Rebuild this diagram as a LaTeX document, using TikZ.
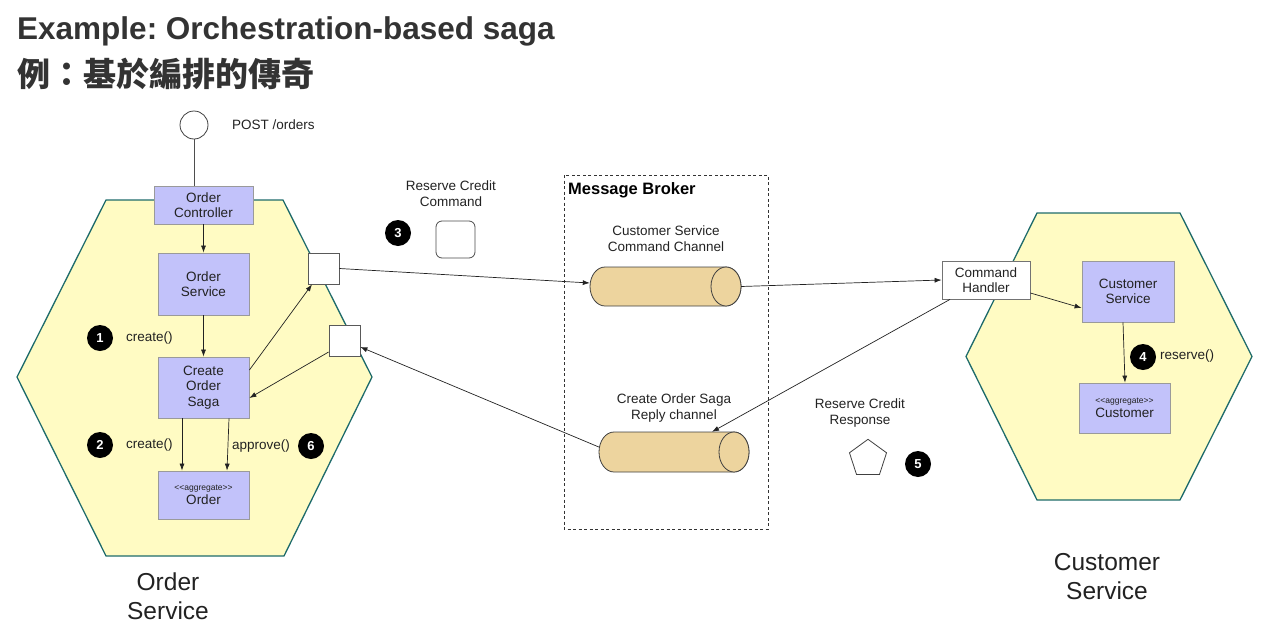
\documentclass[tikz,border=0pt]{standalone}
\usepackage{fontspec}
\setmainfont{Liberation Sans}
\newfontfamily\cjk{Noto Sans CJK TC}
\usetikzlibrary{shapes.geometric,arrows.meta}
\definecolor{hexfill}{HTML}{FFFBC3}
\definecolor{hexline}{HTML}{1E6B6B}
\definecolor{compfill}{HTML}{C2C2FA}
\definecolor{compline}{HTML}{9A9A9A}
\definecolor{cylfill}{HTML}{EDD49E}
\definecolor{ink}{HTML}{222222}
\definecolor{titlegray}{HTML}{333333}
\frenchspacing
\tikzset{
  hexa/.style={draw=hexline, fill=hexfill, line width=1.3pt, line join=miter},
  comp/.style={rectangle, draw=compline, fill=compfill, line width=0.8pt, align=center, text=ink, inner sep=0,
    font=\fontsize{13.5}{15.5}\selectfont},
  port/.style={rectangle, draw=black!65, fill=white, line width=0.8pt, minimum width=31, minimum height=31, inner sep=0},
  badge/.style={circle, fill=black, text=white, minimum size=26, inner sep=0, font=\fontsize{13}{13}\selectfont\bfseries},
  lbl/.style={align=center, inner sep=0, text=ink, font=\fontsize{13.5}{16}\selectfont},
  biglbl/.style={align=center, inner sep=0, text=ink, font=\fontsize{24.5}{29}\selectfont},
  conn/.style={draw=ink, line width=0.7pt, -{Latex[length=7pt,width=5pt]}},
  plainconn/.style={draw=ink!80, line width=0.7pt},
  cylst/.style={draw=black!75, fill=cylfill, line width=0.8pt},
  cylbase/.style={rectangle, inner sep=0, draw=none}
}
\begin{document}
\begin{tikzpicture}[x=1pt, y=-1pt]
\useasboundingbox (0,0) rectangle (1285,632);

% titles
\node[anchor=base west, inner sep=0, text=titlegray, font=\fontsize{31.5}{32}\selectfont\bfseries] (title) at (17,39) {Example: Orchestration-based saga};
\node[anchor=base west, inner sep=0, text=titlegray, font=\fontsize{33}{33}\selectfont\cjk\bfseries] (titlezh) at (17,86) {例：基於編排的傳奇};

% hexagons
\draw[hexa] (106,200) -- (283,200) -- (372,377) -- (284,556) -- (106,556) -- (17,377) -- cycle;
\draw[hexa] (1037,213) -- (1180,213) -- (1252,356.5) -- (1180,500) -- (1037,500) -- (966,356.5) -- cycle;

% message broker
\draw[draw=black!80, line width=0.8pt, dash pattern=on 3pt off 2.5pt] (564,175) rectangle (768,529);
\node[anchor=west, inner sep=0, text=black, font=\fontsize{16.5}{18}\selectfont\bfseries] (mb) at (568,190) {Message Broker};

% order service components
\node[circle, draw=black!75, fill=white, line width=0.8pt, minimum size=28, inner sep=0] (post) at (194,125) {};
\node[lbl, anchor=west] (postlbl) at (232,125) {POST /orders};
\node[comp, minimum width=99, minimum height=38] (ctl) at (203.5,205) {Order\\Controller};
\node[comp, minimum width=91, minimum height=62] (osvc) at (203.5,284) {Order\\Service};
\node[comp, minimum width=91, minimum height=61] (saga) at (203.5,387.5) {Create\\Order\\Saga};
\node[comp, minimum width=91, minimum height=48] (order) at (203.5,495) {{\fontsize{8.5}{10}\selectfont <{}<aggregate>{}>}\\[-1pt]Order};
\node[port] (p1) at (323.5,268.5) {};
\node[port] (p2) at (344.5,340.5) {};

\node[badge] (b1) at (100,338) {1};
\node[lbl, anchor=west] (c1) at (126,338) {create()};
\node[badge] (b2) at (100,445) {2};
\node[lbl, anchor=west] (c2) at (126,445) {create()};
\node[lbl, anchor=west] (ap) at (232,446) {approve()};
\node[badge] (b6) at (311,446) {6};

\node[biglbl] (osl) at (168,596.5) {Order\\Service};

% command message
\node[lbl] (rcc) at (451,194) {Reserve Credit\\Command};
\node[badge] (b3) at (398,233) {3};
\node[rectangle, rounded corners=6pt, draw=black!70, fill=white, line width=0.8pt, minimum width=39, minimum height=37] (cmdmsg) at (455.5,239.5) {};

% channels
\node[lbl] (ch1l) at (666,238.5) {Customer Service\\Command Channel};
\node[cylbase, minimum width=151, minimum height=39] (cyl1) at (665.5,286.5) {};
\draw[cylst] (605,267) -- (726,267) arc[start angle=-90, end angle=90, x radius=15, y radius=19.5] -- (605,306) arc[start angle=90, end angle=270, x radius=15, y radius=19.5] -- cycle;
\draw[cylst] (726,286.5) ellipse [x radius=15, y radius=19.5];

\node[lbl] (ch2l) at (674,408.5) {Create Order Saga\\Reply channel};
\node[cylbase, minimum width=150, minimum height=40] (cyl2) at (674,452) {};
\draw[cylst] (614,432) -- (734,432) arc[start angle=-90, end angle=90, x radius=15, y radius=20] -- (614,472) arc[start angle=90, end angle=270, x radius=15, y radius=20] -- cycle;
\draw[cylst] (734,452) ellipse [x radius=15, y radius=20];

% customer side
\node[rectangle, draw=black!55, fill=white, line width=0.8pt, minimum width=88, minimum height=38, align=center, inner sep=0, text=ink, font=\fontsize{13.5}{15.5}\selectfont] (cmdh) at (986,280) {Command\\Handler};
\node[comp, minimum width=92, minimum height=61] (csvc) at (1128,291.5) {Customer\\Service};
\node[comp, minimum width=91, minimum height=50] (cust) at (1124.5,408) {{\fontsize{8.5}{10}\selectfont <{}<aggregate>{}>}\\[-1pt]Customer};
\node[badge] (b4) at (1143,357) {4};
\node[lbl, anchor=west] (rs) at (1160,356) {reserve()};

\node[lbl] (rcr) at (860,413) {Reserve Credit\\Response};
\node[regular polygon, regular polygon sides=5, draw=black!75, fill=white, line width=0.8pt, minimum size=39, inner sep=0] (resp) at (868,458.8) {};
\node[badge] (b5) at (918,464) {5};

\node[biglbl] (csl) at (1107,576.5) {Customer\\Service};

% connectors
\draw[plainconn] (post.south) -- (post.south |- ctl.north);
\draw[conn] (ctl) -- (osvc);
\draw[conn] (osvc) -- (saga);
\draw[conn] ([xshift=-21.5pt]saga.south) -- ([xshift=-21.5pt]order.north);
\draw[conn] ([xshift=25.5pt]saga.south) -- ([xshift=23.5pt]order.north);
\draw[conn] ([yshift=17.5pt]saga.east) -- ([xshift=-11.5pt]p1.south);
\draw[conn] ([yshift=-11.5pt]p2.west) -- ([yshift=-10.5pt]saga.east);
\draw[conn] (p1.east) -- ([yshift=3.5pt]cyl1.west);
\draw[conn] ([yshift=5pt]cyl2.west) -- ([yshift=-6.5pt]p2.east);
\draw[conn] (cyl1.east) -- (cmdh.west);
\draw[conn] ([yshift=-13pt]cmdh.east) -- ([yshift=-16.5pt]csvc.west);
\draw[conn] ([xshift=-36pt]cmdh.south) -- ([xshift=38pt]cyl2.north);
\draw[conn] ([xshift=-5pt]csvc.south) -- ([xshift=0.5pt]cust.north);
\end{tikzpicture}
\end{document}
